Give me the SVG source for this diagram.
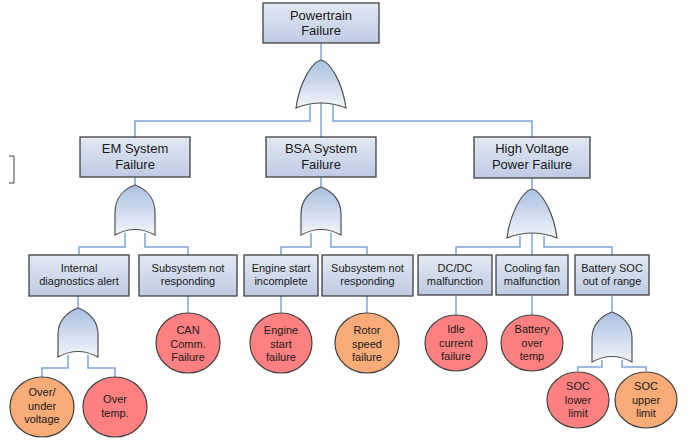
<svg xmlns="http://www.w3.org/2000/svg" width="689" height="440" viewBox="0 0 689 440">
  <defs>
    <linearGradient id="boxFill" x1="0" y1="0" x2="0" y2="1">
      <stop offset="0" stop-color="#e3e9f4"/>
      <stop offset="1" stop-color="#bdcbe4"/>
    </linearGradient>
    <linearGradient id="gateFill" x1="0" y1="0" x2="0" y2="1">
      <stop offset="0" stop-color="#a9bfe1"/>
      <stop offset="1" stop-color="#f3f6fb"/>
    </linearGradient>
  </defs>
  <style>
    .box { fill: url(#boxFill); stroke: #404040; stroke-width: 1.3; }
    .gate { fill: url(#gateFill); stroke: #505050; stroke-width: 1.2; }
    .red { fill: #fe8080; stroke: #404040; stroke-width: 1.2; }
    .orange { fill: #f9ac78; stroke: #404040; stroke-width: 1.2; }
    .wire { fill: none; stroke: #7ea4d8; stroke-width: 1.5; }
    text { font-family: "Liberation Sans", Arial, sans-serif; fill: #1a1a1a; text-anchor: middle; }
    .t13 { font-size: 13px; }
    .t11 { font-size: 11px; }
  </style>

  <rect width="689" height="440" fill="#ffffff"/>

  <!-- partial bracket at the left edge -->
  <path d="M9,156 H14 V183 H9" fill="none" stroke="#404040" stroke-width="1"/>

  <!-- connectors -->
  <g id="connectors" class="wire">
    <path d="M321,43 V60"/>
    <path d="M310,105 V121 H135 V137"/>
    <path d="M321,102 V137"/>
    <path d="M333,105 V121 H532 V137"/>

    <path d="M135,177 V185"/>
    <path d="M125,233 V247 H79 V255"/>
    <path d="M145,233 V247 H188 V255"/>

    <path d="M321,177 V187"/>
    <path d="M311,233 V247 H281 V255"/>
    <path d="M331,233 V247 H367 V255"/>

    <path d="M532,178 V189"/>
    <path d="M520,236 V247 H456 V255"/>
    <path d="M532,233 V255"/>
    <path d="M544,236 V247 H612 V255"/>

    <path d="M78,296 V308"/>
    <path d="M68,355 V368 H42 V377"/>
    <path d="M88,355 V368 H115 V377"/>
    <path d="M188,296 V313"/>
    <path d="M281,296 V313"/>
    <path d="M367,296 V313"/>
    <path d="M456,296 V315"/>
    <path d="M532,296 V315"/>
    <path d="M612,296 V312"/>
    <path d="M602,360 V367 H578 V371"/>
    <path d="M622,360 V367 H646 V371"/>
  </g>

  <!-- top event -->
  <g id="powertrain">
    <rect class="box" x="263" y="3" width="116" height="40"/>
    <text class="t13" x="321" y="20">Powertrain</text>
    <text class="t13" x="321" y="35">Failure</text>
  </g>
  <g id="gate-powertrain">
    <path class="gate" d="M321,60 C331,62 343,85 346,108 Q321,98 296,108 C299,85 311,62 321,60 Z"/>
  </g>

  <!-- first level -->
  <g id="em-system">
    <rect class="box" x="80" y="137" width="110" height="40"/>
    <text class="t13" x="135" y="153">EM System</text>
    <text class="t13" x="135" y="168.5">Failure</text>
  </g>
  <g id="gate-em">
    <path class="gate" d="M135,185 C146,189 155,198 155,213 V235 Q135,224 115,235 V213 C115,198 124,189 135,185 Z"/>
  </g>

  <g id="bsa-system">
    <rect class="box" x="266" y="137" width="110" height="40"/>
    <text class="t13" x="321" y="153">BSA System</text>
    <text class="t13" x="321" y="168.5">Failure</text>
  </g>
  <g id="gate-bsa">
    <path class="gate" d="M321,187 C332,191 341,200 341,214 V235 Q321,224 301,235 V214 C301,200 310,191 321,187 Z"/>
  </g>

  <g id="hv-power">
    <rect class="box" x="474" y="137" width="116" height="41"/>
    <text class="t13" x="532" y="153">High Voltage</text>
    <text class="t13" x="532" y="168.5">Power Failure</text>
  </g>
  <g id="gate-hv">
    <path class="gate" d="M532,189 C542,191 554,214 557,238 Q532,228 507,238 C510,214 522,191 532,189 Z"/>
  </g>

  <!-- second level -->
  <g id="internal-diag">
    <rect class="box" x="29" y="255" width="100" height="41"/>
    <text class="t11" x="79" y="272">Internal</text>
    <text class="t11" x="79" y="285">diagnostics alert</text>
  </g>
  <g id="gate-internal">
    <path class="gate" d="M78,308 C89,312 98,321 98,334 V357 Q78,346 58,357 V334 C58,321 67,312 78,308 Z"/>
  </g>
  <g id="em-subsystem">
    <rect class="box" x="139" y="255" width="98" height="41"/>
    <text class="t11" x="188" y="272">Subsystem not</text>
    <text class="t11" x="188" y="285">responding</text>
  </g>
  <g id="engine-start">
    <rect class="box" x="244" y="255" width="74" height="41"/>
    <text class="t11" x="281" y="272">Engine start</text>
    <text class="t11" x="281" y="285">incomplete</text>
  </g>
  <g id="bsa-subsystem">
    <rect class="box" x="322" y="255" width="91" height="41"/>
    <text class="t11" x="367.5" y="272">Subsystem not</text>
    <text class="t11" x="367.5" y="285">responding</text>
  </g>
  <g id="dcdc">
    <rect class="box" x="418" y="255" width="74" height="40"/>
    <text class="t11" x="455" y="272">DC/DC</text>
    <text class="t11" x="455" y="285">malfunction</text>
  </g>
  <g id="cooling-fan">
    <rect class="box" x="496" y="255" width="72" height="40"/>
    <text class="t11" x="532" y="272">Cooling fan</text>
    <text class="t11" x="532" y="285">malfunction</text>
  </g>
  <g id="battery-soc">
    <rect class="box" x="575" y="255" width="74" height="40"/>
    <text class="t11" x="612" y="272">Battery SOC</text>
    <text class="t11" x="612" y="285">out of range</text>
  </g>
  <g id="gate-soc">
    <path class="gate" d="M612,312 C623,316 632,325 632,338 V362 Q612,351 592,362 V338 C592,325 601,316 612,312 Z"/>
  </g>

  <!-- basic events -->
  <g id="over-under-voltage">
    <ellipse class="orange" cx="42" cy="407" rx="32" ry="30"/>
    <text class="t11" x="42" y="396">Over/</text>
    <text class="t11" x="42" y="409.5">under</text>
    <text class="t11" x="42" y="423">voltage</text>
  </g>
  <g id="over-temp">
    <ellipse class="red" cx="115" cy="407" rx="32" ry="30"/>
    <text class="t11" x="115" y="403">Over</text>
    <text class="t11" x="115" y="416.5">temp.</text>
  </g>
  <g id="can-comm">
    <ellipse class="red" cx="188" cy="343" rx="32" ry="30"/>
    <text class="t11" x="188" y="334">CAN</text>
    <text class="t11" x="188" y="347.5">Comm.</text>
    <text class="t11" x="188" y="361">Failure</text>
  </g>
  <g id="engine-start-failure">
    <ellipse class="red" cx="281" cy="343" rx="31" ry="30"/>
    <text class="t11" x="281" y="334">Engine</text>
    <text class="t11" x="281" y="347.5">start</text>
    <text class="t11" x="281" y="361">failure</text>
  </g>
  <g id="rotor-speed">
    <ellipse class="orange" cx="367" cy="343" rx="32" ry="30"/>
    <text class="t11" x="367" y="334">Rotor</text>
    <text class="t11" x="367" y="347.5">speed</text>
    <text class="t11" x="367" y="361">failure</text>
  </g>
  <g id="idle-current">
    <ellipse class="red" cx="456" cy="343" rx="31" ry="28"/>
    <text class="t11" x="456" y="333">Idle</text>
    <text class="t11" x="456" y="346.5">current</text>
    <text class="t11" x="456" y="360">failure</text>
  </g>
  <g id="battery-over-temp">
    <ellipse class="red" cx="532" cy="343" rx="31" ry="28"/>
    <text class="t11" x="532" y="333">Battery</text>
    <text class="t11" x="532" y="346.5">over</text>
    <text class="t11" x="532" y="360">temp</text>
  </g>
  <g id="soc-lower">
    <ellipse class="red" cx="578" cy="400" rx="31" ry="28"/>
    <text class="t11" x="578" y="390">SOC</text>
    <text class="t11" x="578" y="403.5">lower</text>
    <text class="t11" x="578" y="417">limit</text>
  </g>
  <g id="soc-upper">
    <ellipse class="orange" cx="646" cy="400" rx="31" ry="28"/>
    <text class="t11" x="646" y="390">SOC</text>
    <text class="t11" x="646" y="403.5">upper</text>
    <text class="t11" x="646" y="417">limit</text>
  </g>
</svg>
